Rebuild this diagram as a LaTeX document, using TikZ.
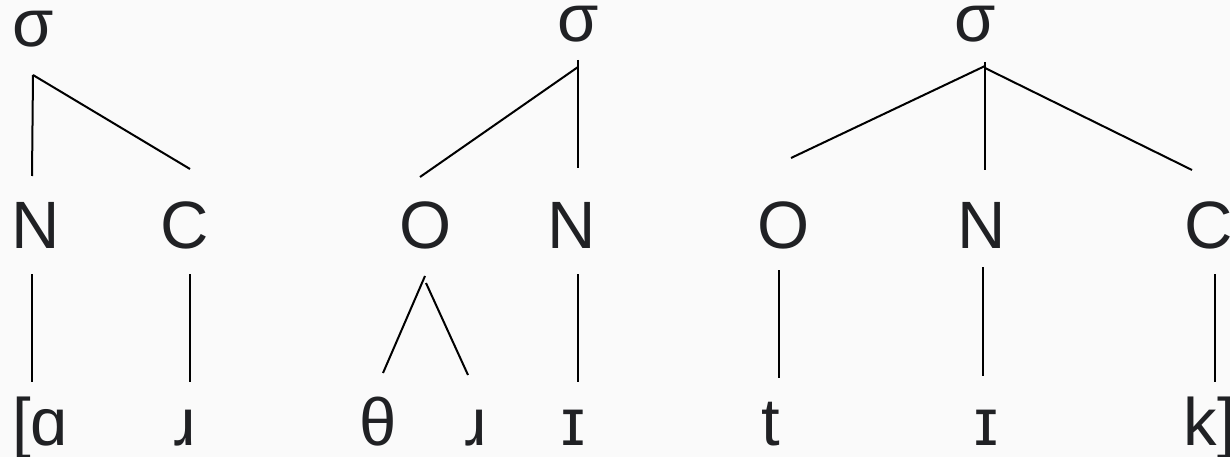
\documentclass[tikz,border=0pt]{standalone}
\usepackage{fontspec}
\setmainfont{Liberation Sans}
\definecolor{bg}{HTML}{FAFAFA}
\definecolor{ink}{HTML}{202124}
\begin{document}
\begin{tikzpicture}[x=1pt,y=-1pt,
  lbl/.style={anchor=base,inner sep=0pt,text=ink,font=\fontsize{67}{80}\selectfont},
  edge/.style={line width=2pt,draw=black}]
\fill[bg] (0,0) rectangle (1230,457);
\useasboundingbox (0,0) rectangle (1230,457);
% Tree 1
\node[lbl] (s1) at (33,47) {σ};
\node[lbl] (n1) at (36,248) {N};
\node[lbl] (c1) at (185,248) {C};
\node[lbl] (a1) at (40,445) {[ɑ};
\node[lbl] (r1) at (185,445) {ɹ};
\coordinate (s1d) at (33,75);
\coordinate (n1u) at (32,176);
\coordinate (c1u) at (190,169);
\coordinate (n1d) at (32,274);
\coordinate (a1u) at (32,382);
\coordinate (c1d) at (190,274);
\coordinate (r1u) at (190,382);
\draw[edge] (s1d) -- (n1u);
\draw[edge] (s1d) -- (c1u);
\draw[edge] (n1d) -- (a1u);
\draw[edge] (c1d) -- (r1u);
% Tree 2
\node[lbl] (s2) at (578,42) {σ};
\node[lbl] (o2) at (426,248) {O};
\node[lbl] (n2) at (572,248) {N};
\node[lbl] (th2) at (378,445) {θ};
\node[lbl] (r2) at (476,445) {ɹ};
\node[lbl] (i2) at (573,445) {ɪ};
\coordinate (s2d) at (578,60);
\coordinate (s2l) at (578,67);
\coordinate (n2u) at (578,168);
\coordinate (o2u) at (420,177);
\coordinate (o2a) at (425,276);
\coordinate (o2b) at (426,283);
\coordinate (th2u) at (383,373);
\coordinate (r2u) at (468,375);
\coordinate (n2d) at (578,274);
\coordinate (i2u) at (578,382);
\draw[edge] (s2d) -- (n2u);
\draw[edge] (s2l) -- (o2u);
\draw[edge] (o2a) -- (th2u);
\draw[edge] (o2b) -- (r2u);
\draw[edge] (n2d) -- (i2u);
% Tree 3
\node[lbl] (s3) at (975,42) {σ};
\node[lbl] (o3) at (784,248) {O};
\node[lbl] (n3) at (982,248) {N};
\node[lbl] (c3) at (1209,248) {C};
\node[lbl] (t3) at (771,445) {t};
\node[lbl] (i3) at (986,445) {ɪ};
\node[lbl] (k3) at (1210,445) {k]};
\coordinate (s3d) at (985,62);
\coordinate (s3l) at (985,66);
\coordinate (s3r) at (985,68);
\coordinate (n3u) at (985,170);
\coordinate (o3u) at (791,158);
\coordinate (c3u) at (1192,170);
\coordinate (o3d) at (779,270);
\coordinate (t3u) at (779,378);
\coordinate (n3d) at (983,267);
\coordinate (i3u) at (983,376);
\coordinate (c3d) at (1215,274);
\coordinate (k3u) at (1215,382);
\draw[edge] (s3d) -- (n3u);
\draw[edge] (s3l) -- (o3u);
\draw[edge] (s3r) -- (c3u);
\draw[edge] (o3d) -- (t3u);
\draw[edge] (n3d) -- (i3u);
\draw[edge] (c3d) -- (k3u);
\end{tikzpicture}
\end{document}
